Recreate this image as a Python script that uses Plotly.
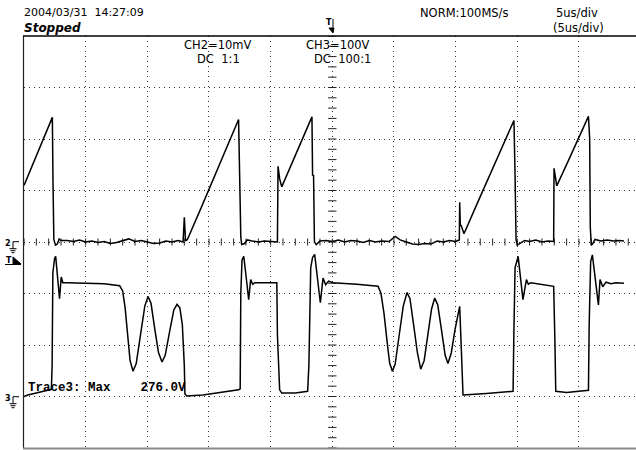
import plotly.graph_objects as go

# ---------------- data ----------------
# time in microseconds (5 us/div, trigger at centre), CH2 in mV (10 mV/div), CH3 in V (100 V/div)
ch2_time_us = [-25.0, -23.9, -22.75, -22.70, -22.65, -22.58, -22.45, -22.3, -22.15, -22.0,
               -21.5, -21.0, -20.5, -20.0, -19.5, -19.0, -18.5, -18.0, -17.5, -17.0,
               -16.5, -16.0, -15.5, -15.0, -14.5, -14.0, -13.5, -13.0, -12.5, -12.1,
               -12.0, -11.9, -11.75, -10.5, -9.5, -8.5, -7.6, -7.42, -7.35, -7.1,
               -6.9, -6.5, -6.0, -5.5, -5.0, -4.45, -4.40, -4.27, -4.10, -3.0,
               -2.2, -1.65, -1.60, -1.52, -1.45, -1.3, -1.0, -0.5, 0.0, 0.5,
               1.0, 1.5, 2.0, 2.5, 3.0, 3.5, 4.0, 4.6, 5.1, 5.5,
               6.0, 6.5, 7.0, 7.5, 8.0, 8.5, 9.0, 9.5, 10.0, 10.3,
               10.33, 10.38, 10.45, 10.55, 10.68, 11.7, 12.7, 13.7, 14.73, 14.82,
               14.9, 15.0, 15.2, 15.6, 16.0, 16.5, 17.0, 17.5, 17.95, 17.98,
               18.1, 18.2, 19.2, 20.0, 20.77, 20.87, 20.92, 21.0, 21.1, 21.3,
               21.8, 22.3, 22.8, 23.3, 23.65]
ch2_mv = [11.0, 17.3, 24.0, 24.2, 12.0, 0.5, -0.6, -0.4, 0.6, 0.3,
          0.3, 0.1, 0.4, 0.0, 0.2, -0.1, 0.1, -0.3, -0.1, 0.2,
          0.6, 0.1, 0.3, 0.0, -0.3, -0.2, 0.2, 0.0, 0.3, 0.0,
          4.8, 0.2, 0.5, 7.4, 13.0, 18.6, 23.8, 1.0, -0.5, -0.3,
          0.4, 0.2, 0.0, 0.2, 0.1, 0.0, 14.7, 12.3, 10.7, 16.8,
          21.2, 24.3, 13.0, 12.9, 0.0, -0.5, 0.2, 0.3, 0.1, 0.4,
          0.0, 0.3, 0.2, -0.1, 0.3, 0.0, 0.2, 0.1, 1.1, 0.4,
          0.0, -0.4, -0.5, -0.3, -0.4, 0.2, 0.0, 0.3, 0.1, 0.4,
          7.7, 3.2, 3.2, 2.3, 1.6, 7.2, 12.6, 18.0, 23.6, 12.9,
          0.5, -0.6, -0.3, 0.3, 0.1, 0.4, 0.0, 0.2, 0.1, 14.3,
          12.5, 10.9, 16.1, 20.3, 24.4, 20.1, 2.9, -0.6, -0.4, 0.5,
          0.2, 0.4, 0.2, 0.3, 0.2]

ch3_time_us = [-25.0, -24.7, -24.0, -23.0, -22.78, -22.72, -22.66, -22.52, -22.43, -22.28,
               -22.12, -21.98, -21.85, -21.5, -20.0, -18.5, -17.24, -17.0, -16.8, -16.6,
               -16.4, -16.16, -15.9, -15.55, -15.2, -14.94, -14.7, -14.4, -14.1, -13.81,
               -13.55, -13.2, -12.85, -12.59, -12.36, -12.16, -12.0, -11.95, -11.8, -10.5,
               -9.5, -8.5, -7.6, -7.47, -7.42, -7.32, -7.18, -7.0, -6.78, -6.62,
               -6.45, -6.29, -4.5, -4.45, -4.35, -4.27, -4.1, -3.0, -2.0, -1.9,
               -1.75, -1.6, -1.43, -1.2, -0.97, -0.75, -0.54, -0.3, 0.03, 2.0,
               3.71, 3.95, 4.2, 4.45, 4.65, 4.87, 5.1, 5.4, 5.75, 6.06,
               6.3, 6.6, 6.9, 7.17, 7.45, 7.75, 8.05, 8.3, 8.55, 8.85,
               9.15, 9.38, 9.65, 9.95, 10.2, 10.33, 10.45, 10.6, 12.5, 14.66,
               14.72, 14.82, 15.07, 15.25, 15.46, 15.74, 15.9, 16.1, 17.95, 18.05,
               18.12, 19.0, 20.77, 20.83, 20.95, 21.09, 21.3, 21.58, 21.71, 21.93,
               22.2, 22.6, 23.0, 23.65]
ch3_v = [0, 3, 7, 12, 14, 60, 240, 268, 272, 232,
         190, 232, 221, 221, 220, 219, 215, 205, 172, 118,
         70, 49, 64, 120, 176, 194, 181, 132, 86, 67,
         80, 125, 168, 179, 172, 139, 60, 5, 1, 3,
         6, 9, 13, 15, 200, 265, 272, 235, 188, 227,
         218, 221, 221, 120, 30, 13, 7, 7, 10, 60,
         250, 270, 276, 230, 182, 230, 217, 224, 221, 218,
         214, 200, 160, 105, 65, 49, 63, 115, 175, 202,
         190, 138, 85, 53, 70, 120, 170, 191, 178, 130,
         80, 64, 85, 130, 165, 175, 100, 3, 6, 10,
         120, 250, 272, 230, 188, 227, 218, 221, 214, 110,
         10, 8, 12, 140, 262, 275, 230, 178, 227, 213,
         222, 219, 221, 220]

header_left = "2004/03/31  14:27:09"
status_text = "Stopped"
acq_text = "NORM:100MS/s"
tdiv_text = "5us/div"
tdiv_text2 = "(5us/div)"
ch2_label = ["CH2=10mV", "DC  1:1"]
ch3_label = ["CH3=100V", "DC  100:1"]
measure_text = "Trace3: Max    276.0V"

# ---------------- layout geometry ----------------
W, H = 636, 450
ML, MR, MT, MB = 24, 0, 36, 2
PW, PH = W - ML - MR, H - MT - MB
DIV_PX = 61.66
x_range = [-25, -25 + PW / DIV_PX * 5]


def px(x):
    return (x - ML) / PW


def py(y):
    return (H - MB - y) / PH


fig = go.Figure()

# graticule crosshair ticks (1/5 division)
fig.add_trace(go.Scatter(x=[k for k in range(-25, 25)], y=[0] * 50, mode="markers",
                         marker=dict(symbol="line-ns", size=5, line=dict(width=1, color="#222")),
                         hoverinfo="skip", showlegend=False))
fig.add_trace(go.Scatter(x=[0] * 41, y=[2 * k for k in range(-20, 21)], mode="markers",
                         marker=dict(symbol="line-ew", size=6, line=dict(width=1, color="#222")),
                         hoverinfo="skip", showlegend=False))

fig.add_trace(go.Scatter(x=ch2_time_us, y=ch2_mv, mode="lines",
                         line=dict(color="#000", width=1.5), showlegend=False, yaxis="y",
                         hoverinfo="skip"))
fig.add_trace(go.Scatter(x=ch3_time_us, y=ch3_v, mode="lines",
                         line=dict(color="#000", width=1.5), showlegend=False, yaxis="y2",
                         hoverinfo="skip"))

grid = dict(showgrid=True, gridcolor="#333", gridwidth=1, griddash="1px,4px",
            zeroline=False, showticklabels=False, ticks="", showline=False)

fig.update_layout(
    width=W, height=H, margin=dict(l=ML, r=MR, t=MT, b=MB, pad=0),
    paper_bgcolor="white", plot_bgcolor="white", showlegend=False,
    xaxis=dict(range=x_range, dtick=5, tick0=0, **grid),
    yaxis=dict(range=[-40, 40], dtick=10, tick0=0, **grid),
    yaxis2=dict(range=[-100, 700], overlaying="y", visible=False, showgrid=False),
)

shapes = []
# borders
shapes.append(dict(type="line", xref="paper", yref="paper", x0=px(23.5), x1=px(23.5), y0=0, y1=1,
                   line=dict(color="#222", width=1.2)))
shapes.append(dict(type="line", xref="paper", yref="paper", x0=px(23), x1=1, y0=1, y1=1,
                   line=dict(color="#000", width=1.3)))
shapes.append(dict(type="line", xref="paper", yref="paper", x0=px(23), x1=1, y0=py(448.5), y1=py(448.5),
                   line=dict(color="#888", width=2)))


def ground_symbol(yc):
    out = []
    pts = [((13, yc), (13, yc + 7)), ((13, yc), (19, yc)),
           ((9.5, yc + 7), (16.5, yc + 7)), ((10.5, yc + 9), (15.5, yc + 9)), ((11.5, yc + 11), (14.5, yc + 11))]
    for (a, b) in pts:
        out.append(dict(type="line", xref="paper", yref="paper", x0=px(a[0]), y0=py(a[1]),
                        x1=px(b[0]), y1=py(b[1]), line=dict(color="#000", width=1)))
    return out


shapes += ground_symbol(241.7)
shapes += ground_symbol(396.7)
# trigger level marker (left)
shapes.append(dict(type="path", xref="paper", yref="paper",
                   path=f"M {px(13)} {py(257)} L {px(21)} {py(264)} L {px(13)} {py(264)} Z",
                   fillcolor="#000", line=dict(color="#000", width=1)))
shapes.append(dict(type="line", xref="paper", yref="paper", x0=px(5), x1=px(21), y0=py(264.5), y1=py(264.5),
                   line=dict(color="#000", width=1)))
# trigger position marker (top)
shapes.append(dict(type="line", xref="paper", yref="paper", x0=px(333), x1=px(333), y0=py(19), y1=py(31),
                   line=dict(color="#000", width=1)))
shapes.append(dict(type="path", xref="paper", yref="paper",
                   path=f"M {px(329)} {py(28)} L {px(334)} {py(28)} L {px(333)} {py(33)} Z",
                   fillcolor="#000", line=dict(color="#000", width=1)))
fig.update_layout(shapes=shapes)

SANS = "DejaVu Sans"


def ann(text, x, y, size=11.5, xanchor="center", family=SANS, color="#000"):
    return dict(text=text, xref="paper", yref="paper", x=px(x), y=py(y), xanchor=xanchor,
                yanchor="middle", showarrow=False, font=dict(family=family, size=size, color=color))


annotations = [
    ann(header_left, 21.5, 13, size=11, xanchor="left"),
    ann("<b><i>" + status_text + "</i></b>", 21.5, 28, size=12, xanchor="left"),
    ann(acq_text, 464.4, 13),
    ann(tdiv_text, 576.5, 13),
    ann(tdiv_text2, 578.5, 28.5),
    ann(ch2_label[0], 217.4, 45),
    ann(ch2_label[1], 218.5, 59),
    ann(ch3_label[0], 338.3, 45),
    ann(ch3_label[1], 342.5, 59),
    ann("<b>" + measure_text + "</b>", 26, 387.5, size=12.5, xanchor="left", family="Liberation Mono"),
    ann("<b>2</b>", 7.5, 243, size=8),
    ann("<b>3</b>", 7.5, 398, size=8),
    ann("<b>T</b>", 8.5, 260, size=8),
    ann("<b>T</b>", 329, 23, size=8),
]
fig.update_layout(annotations=annotations)

fig.write_html("out.html", config={"displayModeBar": False},
               post_script="document.body.style.margin='0';document.body.style.overflow='hidden';")
